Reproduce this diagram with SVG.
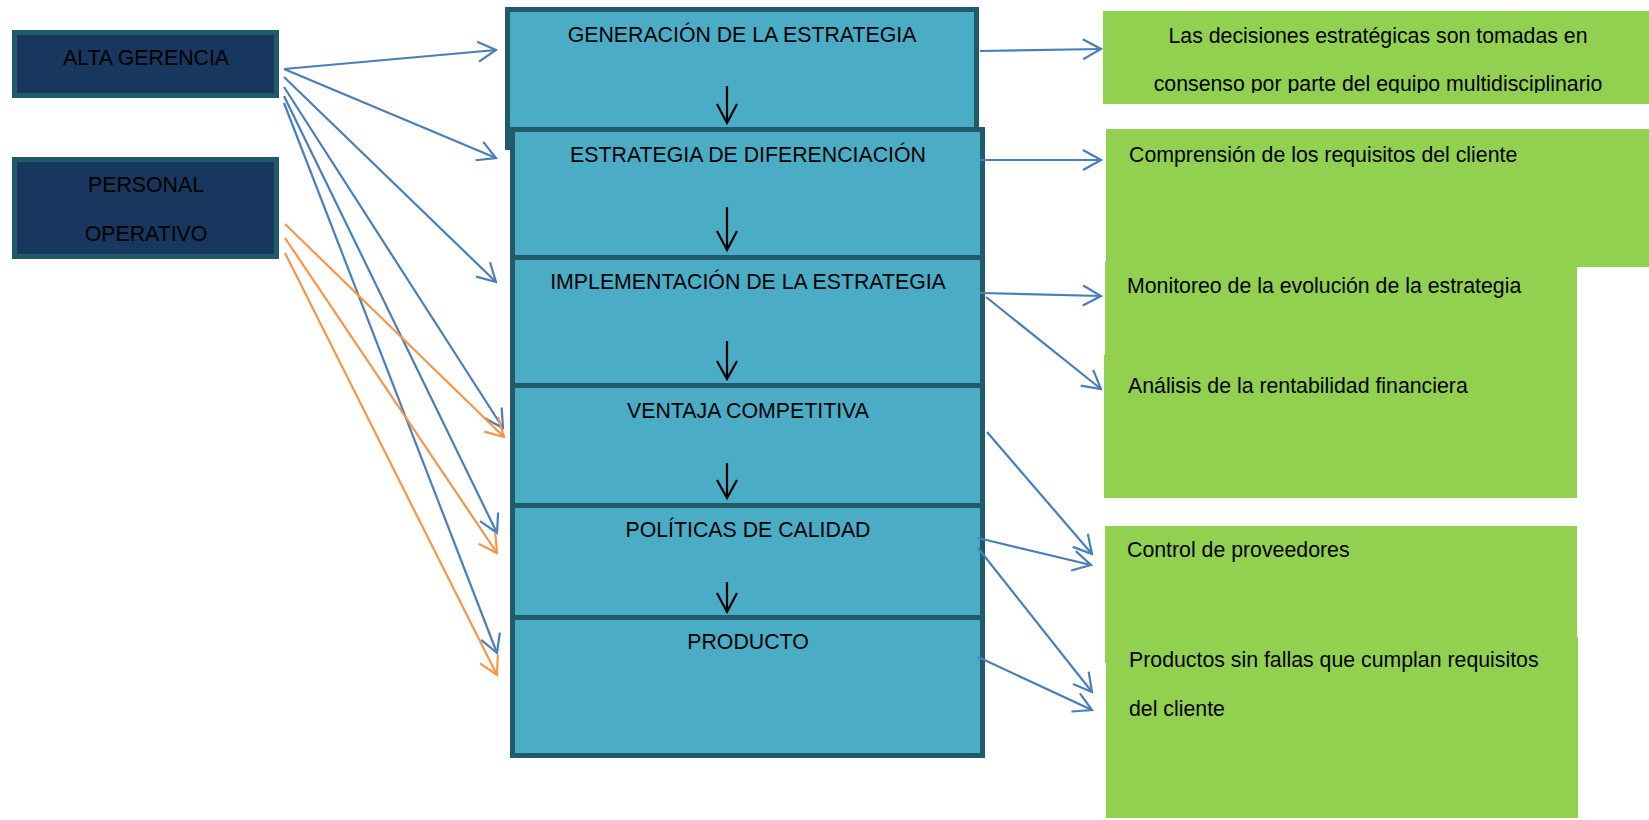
<svg xmlns="http://www.w3.org/2000/svg" width="1649" height="820" viewBox="0 0 1649 820">
<style>
text{font-family:"Liberation Sans",Arial,sans-serif;font-size:21.3px;fill:#000}
.c{text-anchor:middle}
.dark{fill:#17375e;stroke:#215a69;stroke-width:5}
.mid{fill:#4bacc6;stroke:#215a69;stroke-width:5}
.grn{fill:#92d050}
.bl{fill:none;stroke:#4a7ebb;stroke-width:2.2}
.or{fill:none;stroke:#f79646;stroke-width:2.2}
.va{fill:none;stroke:#000;stroke-width:2.2}
</style>
<defs>
<marker id="ab" viewBox="-22 -12 24 24" refX="0" refY="0" markerWidth="24" markerHeight="24" markerUnits="userSpaceOnUse" orient="auto"><path d="M-18,-10 L0,0 L-18,10" fill="none" stroke="#4a7ebb" stroke-width="2.2"/></marker>
<marker id="ao" viewBox="-22 -12 24 24" refX="0" refY="0" markerWidth="24" markerHeight="24" markerUnits="userSpaceOnUse" orient="auto"><path d="M-18,-10 L0,0 L-18,10" fill="none" stroke="#f79646" stroke-width="2.2"/></marker>
<clipPath id="g1clip"><rect x="1103" y="11" width="546" height="82"/></clipPath>
</defs>
<rect width="1649" height="820" fill="#fff"/>

<g id="alta-gerencia"><rect class="dark" x="14.5" y="32.5" width="262" height="63"/><text class="c" x="146" y="65">ALTA GERENCIA</text></g>
<g id="personal-operativo"><rect class="dark" x="14.5" y="159.5" width="262" height="97"/><text class="c" x="146" y="192">PERSONAL</text><text class="c" x="146" y="241">OPERATIVO</text></g>

<g id="generacion"><rect class="mid" x="507.5" y="9.5" width="469" height="138"/><text class="c" x="742" y="42">GENERACIÓN DE LA ESTRATEGIA</text></g>
<g id="diferenciacion"><rect class="mid" x="512.5" y="129.5" width="470" height="128"/><text class="c" x="748" y="162">ESTRATEGIA DE DIFERENCIACIÓN</text></g>
<g id="implementacion"><rect class="mid" x="512.5" y="257.5" width="470" height="128"/><text class="c" x="748" y="289">IMPLEMENTACIÓN DE LA ESTRATEGIA</text></g>
<g id="ventaja"><rect class="mid" x="512.5" y="385.5" width="470" height="120"/><text class="c" x="748" y="418">VENTAJA COMPETITIVA</text></g>
<g id="politicas"><rect class="mid" x="512.5" y="505.5" width="470" height="113"/><text class="c" x="748" y="537">POLÍTICAS DE CALIDAD</text></g>
<g id="producto"><rect class="mid" x="512.5" y="617.5" width="470" height="138"/><text class="c" x="748" y="649">PRODUCTO</text></g>

<g id="decisiones"><rect class="grn" x="1103" y="11" width="546" height="93"/><text class="c" x="1378" y="43">Las decisiones estratégicas son tomadas en</text><text class="c" x="1378" y="91" clip-path="url(#g1clip)">consenso por parte del equipo multidisciplinario</text></g>
<g id="comprension"><rect class="grn" x="1106" y="129" width="543" height="138"/><text x="1129" y="162">Comprensión de los requisitos del cliente</text></g>
<g id="monitoreo"><rect class="grn" x="1105" y="262" width="472" height="100"/><text x="1127" y="293">Monitoreo de la evolución de la estrategia</text></g>
<g id="analisis"><rect class="grn" x="1104" y="355" width="473" height="143"/><text x="1128" y="393">Análisis de la rentabilidad financiera</text></g>
<g id="control"><rect class="grn" x="1105" y="526" width="472" height="137"/><text x="1127" y="557">Control de proveedores</text></g>
<g id="productos"><rect class="grn" x="1106" y="637" width="472" height="181"/><text x="1129" y="667">Productos sin fallas que cumplan requisitos</text><text x="1129" y="716">del cliente</text></g>

<g id="connectors">
<path class="bl" marker-end="url(#ab)" d="M284,69 L496,50"/>
<path class="bl" marker-end="url(#ab)" d="M284,69 L496,158"/>
<path class="bl" marker-end="url(#ab)" d="M284,77 L496,282"/>
<path class="bl" marker-end="url(#ab)" d="M284,87 L503,428"/>
<path class="bl" marker-end="url(#ab)" d="M284,96 L497,533"/>
<path class="bl" marker-end="url(#ab)" d="M284,103 L497,653"/>
<path class="or" marker-end="url(#ao)" d="M285,224 L504,437"/>
<path class="or" marker-end="url(#ao)" d="M285,238 L497,553"/>
<path class="or" marker-end="url(#ao)" d="M285,253 L497,675"/>
<path class="bl" marker-end="url(#ab)" d="M980,51 L1101,49"/>
<path class="bl" marker-end="url(#ab)" d="M980,160 L1101,160"/>
<path class="bl" marker-end="url(#ab)" d="M980,293 L1101,296"/>
<path class="bl" marker-end="url(#ab)" d="M986,297 L1101,389"/>
<path class="bl" marker-end="url(#ab)" d="M987,432 L1092,554"/>
<path class="bl" marker-end="url(#ab)" d="M978,538 L1091,565"/>
<path class="bl" marker-end="url(#ab)" d="M978,548 L1092,692"/>
<path class="bl" marker-end="url(#ab)" d="M978,657 L1092,710"/>
<path class="va" d="M727,86 L727,123 M717,104 L727,123 L737,104"/>
<path class="va" d="M727,207 L727,250 M717,231 L727,250 L737,231"/>
<path class="va" d="M727,341 L727,379 M717,361 L727,379 L737,361"/>
<path class="va" d="M727,463 L727,498 M717,480 L727,498 L737,480"/>
<path class="va" d="M727,582 L727,612 M717,593 L727,612 L737,593"/>
</g>
</svg>
